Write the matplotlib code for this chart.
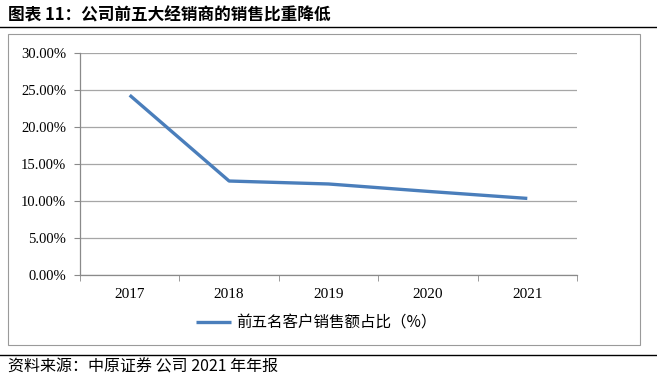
import matplotlib.pyplot as plt
from matplotlib.patches import Rectangle
from matplotlib.lines import Line2D

plt.rcParams['font.family'] = ['Liberation Serif', 'Noto Sans CJK SC', 'DejaVu Sans']
CJK = ['Noto Sans CJK SC', 'DejaVu Sans']

# 数据
years = ["2017", "2018", "2019", "2020", "2021"]
share = [24.3, 12.7, 12.3, 11.3, 10.35]
y_ticks = [0, 5, 10, 15, 20, 25, 30]
y_labels = ["0.00%", "5.00%", "10.00%", "15.00%", "20.00%", "25.00%", "30.00%"]

W, H = 657, 378
fig = plt.figure(figsize=(W / 100, H / 100), dpi=100)

# 标题与上下分隔线
fig.text(8 / W, 1 - 15 / H, "图表 11：公司前五大经销商的销售比重降低",
         fontsize=12, fontweight="bold", va="center", ha="left", family=CJK)
fig.add_artist(Line2D([0, 1], [1 - 27 / H, 1 - 27 / H], color="black", lw=1.0))
fig.add_artist(Line2D([0, 1], [1 - 355 / H, 1 - 355 / H], color="black", lw=1.0))
fig.text(8 / W, 1 - 367 / H, "资料来源：中原证券 公司 2021 年年报",
         fontsize=11.5, va="center", ha="left", family=CJK)

# 图表外框
fig.add_artist(Rectangle((8 / W, 1 - 345 / H), (640 - 8) / W, (345 - 34) / H,
                         fill=False, edgecolor="#9a9a9a", lw=0.8))

ax = fig.add_axes([80 / W, 1 - 275 / H, (577 - 80) / W, (275 - 53) / H])
x = list(range(len(years)))
line, = ax.plot(x, share, color="#4A7EBB", lw=2.4, solid_capstyle="butt",
                label="前五名客户销售额占比（%）")

ax.set_xlim(-0.5, len(years) - 0.5)
ax.set_ylim(0, 30)
ax.set_yticks(y_ticks)
ax.set_yticklabels(y_labels, fontsize=10.5)
ax.set_xticks(x)
ax.set_xticklabels(years, fontsize=11)
ax.set_xticks([i - 0.5 for i in range(len(years) + 1)], minor=True)
ax.tick_params(axis="x", which="major", length=0, pad=9)
ax.tick_params(axis="x", which="minor", length=4, color="#8a8a8a", direction="out")
ax.tick_params(axis="y", length=4, color="#8a8a8a", direction="out", pad=6)

ax.grid(axis="y", color="#a6a6a6", lw=0.9)
ax.set_axisbelow(True)
for s in ["top", "right"]:
    ax.spines[s].set_visible(False)
for s in ["left", "bottom"]:
    ax.spines[s].set_color("#8a8a8a")
    ax.spines[s].set_linewidth(0.9)

fig.legend(handles=[line], loc="center", bbox_to_anchor=(316 / W, 1 - 323 / H),
           frameon=False, handlelength=2.3, handletextpad=0.3,
           prop={"family": CJK, "size": 11.2})

fig.savefig("out.png", dpi=100)
